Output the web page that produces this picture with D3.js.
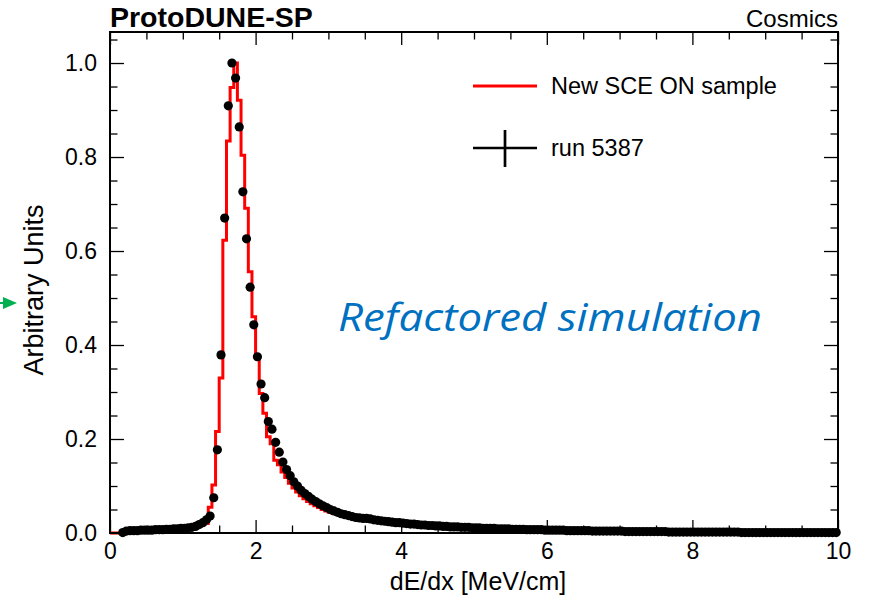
<!DOCTYPE html>
<html>
<head>
<meta charset="utf-8">
<script src="https://cdn.jsdelivr.net/npm/d3@7"></script>
<style>
  body { margin: 0; background: #fff; }
  svg text { font-family: "Liberation Sans", Arial, sans-serif; }
</style>
</head>
<body>
<div id="chart"></div>
<script>
// binning of both histograms: 200 bins of 0.05 MeV/cm
var xDomain = [0, 10];
var yDomain = [0, 1.066];
var nBins = 200;
var xTicks = [0, 2, 4, 6, 8, 10];
var yTicks = [0, 0.2, 0.4, 0.6, 0.8, 1.0];

// MC: New SCE ON sample (red histogram)
var mcValues = [
  0, 0, 0, 0, 0.003, 0.004, 0.004, 0.005, 0.005, 0.005,
  0.005, 0.006, 0.006, 0.006, 0.006, 0.007, 0.007, 0.008, 0.008, 0.009,
  0.009, 0.010, 0.011, 0.012, 0.014, 0.018, 0.020, 0.055, 0.102, 0.216,
  0.330, 0.623, 0.834, 0.948, 1.000, 0.921, 0.804, 0.691, 0.556, 0.460,
  0.375, 0.297, 0.255, 0.205, 0.190, 0.155, 0.145, 0.130, 0.118, 0.106,
  0.096, 0.087, 0.079, 0.073, 0.067, 0.062, 0.058, 0.054, 0.050, 0.047,
  0.044, 0.042, 0.040, 0.038, 0.036, 0.034, 0.033, 0.031, 0.030, 0.029,
  0.028, 0.027, 0.026, 0.025, 0.024, 0.023, 0.022, 0.022, 0.021, 0.020,
  0.020, 0.019, 0.018, 0.018, 0.017, 0.016, 0.016, 0.015, 0.015, 0.014,
  0.014, 0.014, 0.013, 0.013, 0.012, 0.012, 0.012, 0.011, 0.011, 0.011,
  0.010, 0.010, 0.010, 0.010, 0.009, 0.009, 0.009, 0.009, 0.008, 0.008,
  0.008, 0.008, 0.007, 0.007, 0.007, 0.007, 0.006, 0.006, 0.006, 0.006,
  0.006, 0.006, 0.005, 0.005, 0.005, 0.005, 0.005, 0.005, 0.004, 0.004,
  0.004, 0.004, 0.004, 0.004, 0.004, 0.004, 0.003, 0.003, 0.003, 0.003,
  0.003, 0.003, 0.003, 0.003, 0.003, 0.003, 0.003, 0.002, 0.002, 0.002,
  0.002, 0.002, 0.002, 0.002, 0.002, 0.002, 0.002, 0.002, 0.002, 0.002,
  0.002, 0.002, 0.002, 0.002, 0.002, 0.001, 0.001, 0.001, 0.001, 0.001,
  0.001, 0.001, 0.001, 0.001, 0.001, 0.001, 0.001, 0.001, 0.001, 0.001,
  0.001, 0.001, 0.001, 0.001, 0.001, 0.001, 0.001, 0.001, 0.001, 0.001,
  0.001, 0.001, 0.001, 0.001, 0.001, 0.001, 0.001, 0.001, 0.001, 0.001
];

// data: run 5387 (black points), null = empty bin
var dataValues = [
  null, null, null, 0.001, 0.004, 0.005, 0.005, 0.005, 0.006, 0.006,
  0.006, 0.006, 0.007, 0.007, 0.007, 0.008, 0.008, 0.009, 0.009, 0.010,
  0.010, 0.011, 0.012, 0.014, 0.018, 0.022, 0.028, 0.036, 0.075, 0.177,
  0.379, 0.670, 0.909, 1.000, 0.968, 0.864, 0.726, 0.626, 0.523, 0.443,
  0.375, 0.317, 0.288, 0.237, 0.221, 0.193, 0.172, 0.151, 0.135, 0.122,
  0.109, 0.100, 0.091, 0.084, 0.078, 0.072, 0.067, 0.062, 0.058, 0.054,
  0.050, 0.047, 0.044, 0.041, 0.039, 0.037, 0.035, 0.033, 0.032, 0.031,
  0.031, 0.030, 0.028, 0.027, 0.026, 0.025, 0.024, 0.023, 0.022, 0.022,
  0.021, 0.020, 0.019, 0.019, 0.018, 0.017, 0.017, 0.016, 0.016, 0.015,
  0.015, 0.014, 0.014, 0.013, 0.013, 0.013, 0.012, 0.012, 0.012, 0.011,
  0.011, 0.011, 0.010, 0.010, 0.010, 0.010, 0.009, 0.009, 0.009, 0.009,
  0.008, 0.008, 0.008, 0.008, 0.007, 0.007, 0.007, 0.007, 0.007, 0.006,
  0.006, 0.006, 0.006, 0.006, 0.006, 0.005, 0.005, 0.005, 0.005, 0.005,
  0.005, 0.005, 0.004, 0.004, 0.004, 0.004, 0.004, 0.004, 0.004, 0.004,
  0.004, 0.003, 0.003, 0.003, 0.003, 0.003, 0.003, 0.003, 0.003, 0.003,
  0.003, 0.003, 0.003, 0.002, 0.002, 0.002, 0.002, 0.002, 0.002, 0.002,
  0.002, 0.002, 0.002, 0.002, 0.002, 0.002, 0.002, 0.002, 0.002, 0.002,
  0.002, 0.002, 0.002, 0.001, 0.001, 0.001, 0.001, 0.001, 0.001, 0.001,
  0.001, 0.001, 0.001, 0.001, 0.001, 0.001, 0.001, 0.001, 0.001, 0.001,
  0.001, 0.001, 0.001, 0.001, 0.001, 0.001, 0.001, 0.001, 0.001, 0.001
];

var legendLabels = ["New SCE ON sample", "run 5387"];

var width = 871, height = 597;
var frame = { left: 110, right: 838, top: 32, bottom: 533 };

var svg = d3.select("#chart").append("svg")
  .attr("width", width)
  .attr("height", height);

svg.append("rect").attr("width", width).attr("height", height).attr("fill", "#fff");

var x = d3.scaleLinear().domain(xDomain).range([frame.left, frame.right]);
var y = d3.scaleLinear().domain(yDomain).range([frame.bottom, frame.top]);

var binWidth = (xDomain[1] - xDomain[0]) / nBins;

var xMinor = d3.range(0, 10.001, 0.5).filter(function(v) { return v % 2 !== 0; });
var yMinor = d3.range(0, 1.06, 0.05).filter(function(v) { return Math.abs(v * 5 - Math.round(v * 5)) > 1e-6; });

function styleAxis(g) {
  g.select(".domain").remove();
  g.selectAll(".tick line").attr("stroke", "#000").attr("stroke-width", 1.3);
  g.selectAll(".tick text")
    .attr("fill", "#000")
    .style("font-size", "23px")
    .style("font-family", "Liberation Sans, Arial, sans-serif");
}

// bottom axis
svg.append("g")
  .attr("transform", "translate(0," + frame.bottom + ")")
  .call(d3.axisBottom(x).tickValues(xTicks).tickSizeInner(-13).tickSizeOuter(0).tickPadding(10).tickFormat(d3.format("d")))
  .call(styleAxis);
svg.append("g")
  .attr("transform", "translate(0," + frame.bottom + ")")
  .call(d3.axisBottom(x).tickValues(xMinor).tickSizeInner(-7.5).tickSizeOuter(0).tickFormat(""))
  .call(styleAxis);

// top axis (ticks only)
svg.append("g")
  .attr("transform", "translate(0," + frame.top + ")")
  .call(d3.axisTop(x).tickValues(xTicks).tickSizeInner(-13).tickSizeOuter(0).tickFormat(""))
  .call(styleAxis);
svg.append("g")
  .attr("transform", "translate(0," + frame.top + ")")
  .call(d3.axisTop(x).tickValues(xMinor).tickSizeInner(-7.5).tickSizeOuter(0).tickFormat(""))
  .call(styleAxis);

// left axis
svg.append("g")
  .attr("transform", "translate(" + frame.left + ",0)")
  .call(d3.axisLeft(y).tickValues(yTicks).tickSizeInner(-14).tickSizeOuter(0).tickPadding(13).tickFormat(d3.format(".1f")))
  .call(styleAxis);
svg.append("g")
  .attr("transform", "translate(" + frame.left + ",0)")
  .call(d3.axisLeft(y).tickValues(yMinor).tickSizeInner(-7.5).tickSizeOuter(0).tickFormat(""))
  .call(styleAxis);

// right axis (ticks only)
svg.append("g")
  .attr("transform", "translate(" + frame.right + ",0)")
  .call(d3.axisRight(y).tickValues(yTicks).tickSizeInner(-14).tickSizeOuter(0).tickFormat(""))
  .call(styleAxis);
svg.append("g")
  .attr("transform", "translate(" + frame.right + ",0)")
  .call(d3.axisRight(y).tickValues(yMinor).tickSizeInner(-7.5).tickSizeOuter(0).tickFormat(""))
  .call(styleAxis);

// red MC histogram
var histPoints = mcValues.map(function(v, i) { return [xDomain[0] + i * binWidth, v]; });
histPoints.push([xDomain[1], mcValues[mcValues.length - 1]]);

svg.append("path")
  .datum(histPoints)
  .attr("fill", "none")
  .attr("stroke", "#ff0000")
  .attr("stroke-width", 3)
  .attr("d", d3.line()
    .x(function(d) { return x(d[0]); })
    .y(function(d) { return y(d[1]); })
    .curve(d3.curveStepAfter));

// data points
var points = dataValues
  .map(function(v, i) { return { x: xDomain[0] + (i + 0.5) * binWidth, v: v }; })
  .filter(function(d) { return d.v !== null; });

svg.append("g").selectAll("circle")
  .data(points)
  .enter().append("circle")
  .attr("cx", function(d) { return x(d.x); })
  .attr("cy", function(d) { return y(d.v); })
  .attr("r", 4.6)
  .attr("fill", "#000");

// frame
svg.append("rect")
  .attr("x", frame.left)
  .attr("y", frame.top)
  .attr("width", frame.right - frame.left)
  .attr("height", frame.bottom - frame.top)
  .attr("fill", "none")
  .attr("stroke", "#000")
  .attr("stroke-width", 2);

// axis titles
svg.append("text")
  .attr("x", (frame.left + frame.right) / 2 + 4)
  .attr("y", 590)
  .attr("text-anchor", "middle")
  .style("font-size", "25px")
  .text("dE/dx [MeV/cm]");

svg.append("text")
  .attr("transform", "translate(43,290) rotate(-90)")
  .attr("text-anchor", "middle")
  .style("font-size", "27px")
  .text("Arbitrary Units");

// header texts
svg.append("text")
  .attr("x", frame.left)
  .attr("y", 27)
  .style("font-size", "28.5px")
  .style("font-weight", "bold")
  .text("ProtoDUNE-SP");

svg.append("text")
  .attr("x", frame.right)
  .attr("y", 27)
  .attr("text-anchor", "end")
  .style("font-size", "24px")
  .text("Cosmics");

// legend
var legend = svg.append("g");
legend.append("line")
  .attr("x1", 473).attr("x2", 537).attr("y1", 86).attr("y2", 86)
  .attr("stroke", "#ff0000").attr("stroke-width", 3);
legend.append("line")
  .attr("x1", 473).attr("x2", 537).attr("y1", 148).attr("y2", 148)
  .attr("stroke", "#000").attr("stroke-width", 2.7);
legend.append("line")
  .attr("x1", 505).attr("x2", 505).attr("y1", 130).attr("y2", 167)
  .attr("stroke", "#000").attr("stroke-width", 2.7);
legend.selectAll("text")
  .data(legendLabels)
  .enter().append("text")
  .attr("x", 551)
  .attr("y", function(d, i) { return 86 + i * 62; })
  .attr("dy", "0.35em")
  .style("font-size", "23.5px")
  .text(function(d) { return d; });

// slide annotation
svg.append("text")
  .attr("x", 338)
  .attr("y", 331)
  .attr("textLength", 424)
  .attr("lengthAdjust", "spacingAndGlyphs")
  .style("font-family", "'Open Sans', 'Noto Sans', sans-serif")
  .style("font-style", "italic")
  .style("font-size", "38px")
  .attr("fill", "#0070C0")
  .text("Refactored simulation");

// small green pointer at the left edge
svg.append("line")
  .attr("x1", 0).attr("x2", 6).attr("y1", 303).attr("y2", 303)
  .attr("stroke", "#00B050").attr("stroke-width", 2);
svg.append("path")
  .attr("d", "M3,297 L17,303 L3,309 Z")
  .attr("fill", "#00B050");
</script>
</body>
</html>
